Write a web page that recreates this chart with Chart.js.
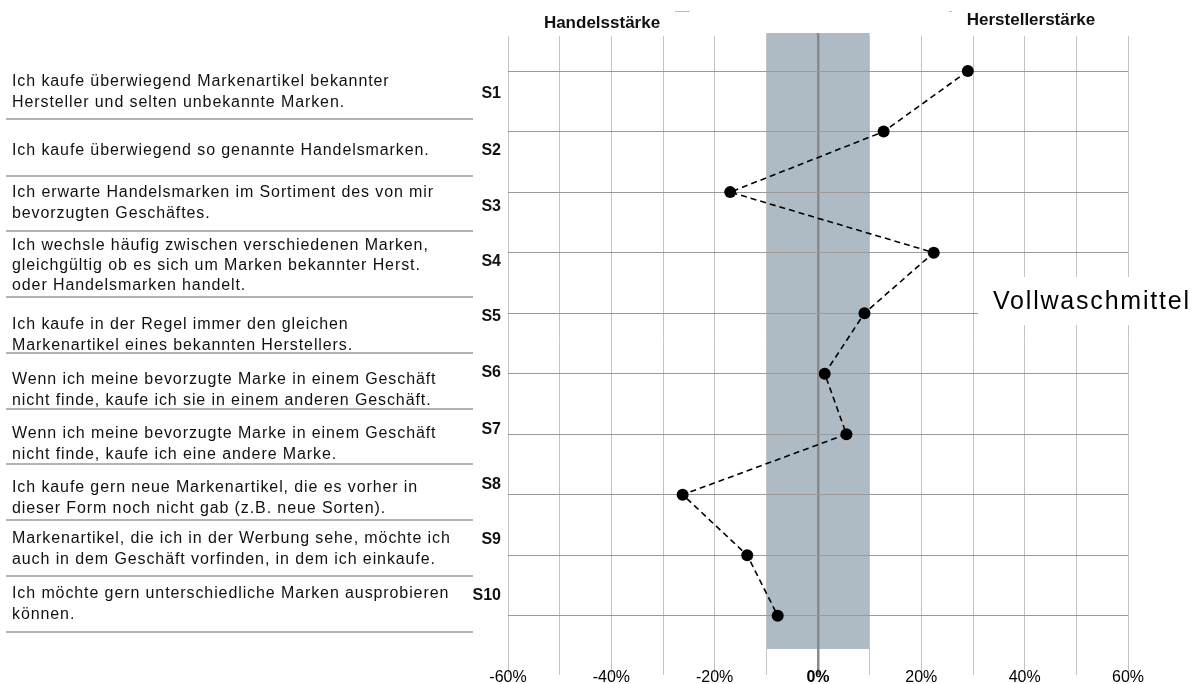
<!DOCTYPE html>
<html>
<head>
<meta charset="utf-8">
<script src="https://cdn.jsdelivr.net/npm/chart.js@4.4.0/dist/chart.umd.min.js"></script>
<style>
html,body{margin:0;padding:0;background:#fff;overflow:hidden}
#wrap{width:1204px;height:684px;position:relative}
</style>
</head>
<body>
<div id="wrap"><canvas id="c" width="1204" height="684"></canvas></div>
<script>
// ---- data ----
const statementIds = ['S1','S2','S3','S4','S5','S6','S7','S8','S9','S10'];
const statements = [
  ['Ich kaufe überwiegend Markenartikel bekannter', 'Hersteller und selten unbekannte Marken.'],
  ['Ich kaufe überwiegend so genannte Handelsmarken.'],
  ['Ich erwarte Handelsmarken im Sortiment des von mir', 'bevorzugten Geschäftes.'],
  ['Ich wechsle häufig zwischen verschiedenen Marken,', 'gleichgültig ob es sich um Marken bekannter Herst.', 'oder Handelsmarken handelt.'],
  ['Ich kaufe in der Regel immer den gleichen', 'Markenartikel eines bekannten Herstellers.'],
  ['Wenn ich meine bevorzugte Marke in einem Geschäft', 'nicht finde, kaufe ich sie in einem anderen Geschäft.'],
  ['Wenn ich meine bevorzugte Marke in einem Geschäft', 'nicht finde, kaufe ich eine andere Marke.'],
  ['Ich kaufe gern neue Markenartikel, die es vorher in', 'dieser Form noch nicht gab (z.B. neue Sorten).'],
  ['Markenartikel, die ich in der Werbung sehe, möchte ich', 'auch in dem Geschäft vorfinden, in dem ich einkaufe.'],
  ['Ich möchte gern unterschiedliche Marken ausprobieren', 'können.']
];
const values = [29.0, 12.7, -17.0, 22.4, 9.0, 1.3, 5.5, -26.2, -13.7, -7.8];
const xTickValues = [-60, -50, -40, -30, -20, -10, 0, 10, 20, 30, 40, 50, 60];
const xTickLabels = ['-60%', '', '-40%', '', '-20%', '', '0%', '', '20%', '', '40%', '', '60%'];
const neutralBand = [-10, 10];
const leftHeader = 'Handelsstärke';
const rightHeader = 'Herstellerstärke';
const productLabel = 'Vollwaschmittel';

// ---- layout (positions only) ----
const FONT = "'Liberation Sans', Arial, sans-serif";
const L = {
  textX: 12, sepX0: 6, sepX1: 473, idX: 501,
  lineY: [[82,103],[151],[193,214],[246,266,286],[325,346],[380,401],[434,455],[488,509],[539,560],[594,615]],
  idY: [94,151,207,262,317,373,430,485,540,596],
  sepY: [119,176,231,297,353,409,464,520,576,632]
};

const decor = {
  id: 'decor',
  beforeDraw(chart) {
    const {ctx, chartArea: a, scales: {x}} = chart;
    ctx.save();
    const x0 = x.getPixelForValue(neutralBand[0]);
    const x1 = x.getPixelForValue(neutralBand[1]);
    ctx.fillStyle = '#aebac4';
    ctx.fillRect(x0, a.top - 3, x1 - x0, a.bottom - a.top + 3);
    ctx.restore();
  },
  afterDraw(chart) {
    const {ctx, chartArea: a, scales: {x}} = chart;
    ctx.save();
    // zero line extension at top
    const zx = Math.round(x.getPixelForValue(0));
    ctx.strokeStyle = '#8a8a8a'; ctx.lineWidth = 2.5;
    ctx.beginPath(); ctx.moveTo(zx, a.top - 3); ctx.lineTo(zx, a.top + 1); ctx.stroke();

    // left panel
    ctx.fillStyle = '#111';
    ctx.textBaseline = 'middle';
    ctx.textAlign = 'left';
    ctx.font = '16px ' + FONT;
    ctx.letterSpacing = '0.9px';
    statements.forEach((lines, i) => {
      lines.forEach((t, j) => ctx.fillText(t, L.textX, L.lineY[i][j]));
    });
    ctx.letterSpacing = '0px';
    ctx.font = 'bold 16px ' + FONT;
    ctx.textAlign = 'right';
    statementIds.forEach((id, i) => ctx.fillText(id, L.idX, L.idY[i]));
    ctx.strokeStyle = '#9a9a9a'; ctx.lineWidth = 1.5;
    L.sepY.forEach(y => {
      ctx.beginPath(); ctx.moveTo(L.sepX0, y); ctx.lineTo(L.sepX1, y); ctx.stroke();
    });

    // headers
    ctx.textAlign = 'center';
    ctx.font = 'bold 17px ' + FONT;
    ctx.fillText(leftHeader, 602, 23);
    ctx.fillText(rightHeader, 1031, 20);
    // small artifacts near top
    ctx.strokeStyle = '#bbbbbb'; ctx.lineWidth = 1;
    ctx.beginPath(); ctx.moveTo(675, 11.5); ctx.lineTo(690, 11.5); ctx.stroke();
    ctx.beginPath(); ctx.moveTo(949, 11.5); ctx.lineTo(952, 11.5); ctx.stroke();

    // product label with white box
    ctx.fillStyle = '#fff';
    ctx.fillRect(978, 277, 226, 48);
    ctx.fillStyle = '#000';
    ctx.textAlign = 'left';
    ctx.font = '25px ' + FONT;
    ctx.letterSpacing = '1.8px';
    ctx.fillText(productLabel, 993, 302);
    ctx.letterSpacing = '0px';
    ctx.restore();
  }
};

new Chart(document.getElementById('c'), {
  type: 'scatter',
  data: {
    datasets: [{
      data: values.map((v, i) => ({x: v, y: i + 1})),
      showLine: true,
      borderColor: '#000',
      borderWidth: 1.6,
      borderDash: [6, 4],
      pointRadius: 6,
      pointBackgroundColor: '#000',
      pointBorderColor: '#000',
      pointBorderWidth: 0,
      tension: 0
    }]
  },
  options: {
    responsive: false,
    animation: false,
    devicePixelRatio: 1,
    layout: {padding: {left: 508, right: 76, top: 36, bottom: 0}},
    plugins: {legend: {display: false}, tooltip: {enabled: false}},
    scales: {
      x: {
        type: 'linear', min: -60, max: 60, position: 'bottom',
        afterBuildTicks: s => { s.ticks = xTickValues.map(v => ({value: v})); },
        afterFit: s => { s.height = 35; },
        grid: {
          color: c => (c.tick && c.tick.value === 0) ? '#8a8a8a' : '#c4c4c4',
          lineWidth: c => (c.tick && c.tick.value === 0) ? 2.5 : 1,
          tickLength: 26,
          drawTicks: true
        },
        border: {display: false},
        ticks: {
          autoSkip: false, maxRotation: 0, padding: -7, color: '#000',
          font: c => ({family: FONT, size: 16, weight: (c.tick && c.tick.value === 0) ? 'bold' : 'normal'}),
          callback: (v, i) => xTickLabels[i]
        }
      },
      y: {
        type: 'linear', reverse: true, min: 0.42, max: 10.55,
        afterBuildTicks: s => { s.ticks = statementIds.map((_, i) => ({value: i + 1})); },
        afterFit: s => { s.width = 0; },
        grid: {color: '#9a9a9a', lineWidth: 1, drawTicks: false},
        border: {display: false},
        ticks: {display: false}
      }
    }
  },
  plugins: [decor]
});
</script>
</body>
</html>
